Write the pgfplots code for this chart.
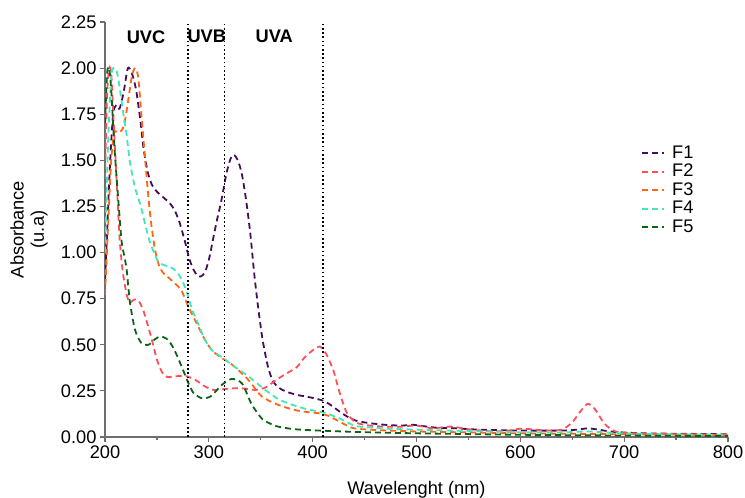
\documentclass[border=0pt]{standalone}
\usepackage{fontspec}
\setmainfont{Liberation Sans}
\usepackage{pgfplots}
\pgfplotsset{compat=1.18}
\definecolor{cF1}{RGB}{72,12,92}
\definecolor{cF2}{RGB}{255,78,88}
\definecolor{cF3}{RGB}{255,102,20}
\definecolor{cF4}{RGB}{64,232,184}
\definecolor{cF5}{RGB}{12,100,22}
\definecolor{axgray}{RGB}{110,110,110}
\newcommand{\fs}{\fontsize{18.3}{20.5}\selectfont}

\pgfplotsset{
  spec/.style={line width=1.8bp, dash pattern=on 6bp off 4bp, smooth, tension=0.45},
  region/.style={black, line width=1.6bp, dash pattern=on 1.6bp off 2.6bp, forget plot},
}

\begin{document}
\begin{tikzpicture}
\begin{axis}[
  scale only axis, width=623bp, height=415bp,
  xmin=200, xmax=800, ymin=0, ymax=2.25,
  axis lines*=left,
  axis line style={line width=1.2bp, color=axgray},
  tick style={line width=1.2bp, color=axgray},
  tick align=outside,
  major tick length=5bp, minor tick length=3bp,
  xtick={200,300,400,500,600,700,800}, minor x tick num=1,
  ytick={0,0.25,0.5,0.75,1,1.25,1.5,1.75,2,2.25},
  yticklabel style={/pgf/number format/.cd, fixed, fixed zerofill, precision=2},
  /pgf/number format/assume math mode=true,
  tick label style={font=\fs},
  xlabel={Wavelenght (nm)},
  every axis x label/.style={at={(axis description cs:0.5,0)}, anchor=base, yshift=-57bp, font=\fs},
  ylabel={Absorbance\\(u.a)},
  every axis y label/.style={at={(axis description cs:-0.122,0.5)}, rotate=90, anchor=center, align=center, font=\fs},
  legend style={at={(rel axis cs:0.855,0.711)}, anchor=north west, draw=none, fill=none,
    font=\fs, row sep=0pt, nodes={inner sep=1.5bp, text height=12.5bp, text depth=3bp}},
  legend cell align=left,
  legend image code/.code={\draw[#1] (0bp,0bp) -- (22bp,0bp); \path (28bp,0bp);},
]
\addplot[cF1, spec] coordinates {(200,0.85) (202,1.1) (204,1.38) (206,1.6) (208,1.76) (211,1.80) (214,1.78) (218,1.87) (222,2.0) (226,1.97) (230,1.88) (234,1.72) (237,1.57) (241,1.44) (245,1.37) (250,1.33) (256,1.30) (262,1.27) (267,1.23) (272,1.16) (277,1.06) (281,0.97) (285,0.91) (289,0.875) (292,0.87) (296,0.89) (300,0.96) (304,1.07) (308,1.18) (312,1.28) (317,1.43) (321,1.51) (324,1.53) (328,1.50) (332,1.42) (336,1.28) (340,1.10) (344,0.87) (348,0.68) (352,0.52) (357,0.38) (362,0.30) (368,0.265) (375,0.245) (385,0.228) (395,0.218) (405,0.205) (411,0.195) (417,0.175) (423,0.15) (432,0.115) (442,0.088) (455,0.075) (470,0.066) (485,0.062) (497,0.066) (505,0.06) (520,0.05) (535,0.048) (560,0.04) (600,0.035) (640,0.035) (655,0.04) (665,0.047) (675,0.04) (690,0.028) (720,0.02) (800,0.015)};
\addlegendentry{F1}
\addplot[cF2, spec] coordinates {(200,1.4) (202,1.85) (204,2.0) (206,1.97) (208,1.75) (210,1.52) (212,1.3) (214,1.08) (217,0.9) (221,0.77) (224,0.73) (228,0.745) (232,0.74) (236,0.70) (240,0.63) (245,0.53) (250,0.42) (255,0.35) (260,0.325) (270,0.33) (278,0.33) (287,0.31) (296,0.275) (305,0.255) (315,0.26) (330,0.265) (345,0.255) (355,0.27) (365,0.31) (375,0.345) (385,0.38) (392,0.43) (400,0.47) (407,0.49) (413,0.45) (420,0.36) (426,0.24) (433,0.13) (442,0.078) (455,0.062) (470,0.056) (485,0.056) (497,0.062) (505,0.058) (516,0.047) (528,0.055) (536,0.056) (545,0.046) (560,0.036) (575,0.03) (590,0.036) (600,0.045) (610,0.042) (625,0.035) (640,0.04) (650,0.08) (658,0.14) (665,0.18) (672,0.15) (680,0.08) (688,0.04) (700,0.022) (750,0.015) (800,0.012)};
\addlegendentry{F2}
\addplot[cF3, spec] coordinates {(200,0.77) (203,1.15) (206,1.5) (209,1.65) (213,1.65) (217,1.67) (220,1.74) (223,1.85) (226,1.96) (229,2.0) (232,1.95) (235,1.75) (238,1.55) (241,1.35) (244,1.18) (248,1.02) (252,0.93) (256,0.89) (262,0.86) (268,0.83) (274,0.79) (280,0.71) (287,0.63) (296,0.53) (303,0.47) (312,0.43) (318,0.41) (325,0.38) (338,0.31) (351,0.22) (367,0.174) (383,0.146) (395,0.135) (407,0.128) (415,0.115) (423,0.092) (432,0.065) (440,0.047) (460,0.038) (500,0.03) (550,0.025) (600,0.02) (700,0.015) (800,0.012)};
\addlegendentry{F3}
\addplot[cF4, spec] coordinates {(200,1.0) (203,1.6) (206,1.95) (208,2.0) (211,1.99) (214,1.9) (218,1.74) (221,1.63) (224,1.49) (229,1.35) (234,1.26) (238,1.17) (243,1.06) (248,0.99) (252,0.945) (258,0.93) (265,0.915) (270,0.89) (275,0.84) (279,0.78) (284,0.69) (290,0.61) (296,0.53) (303,0.47) (312,0.435) (325,0.38) (338,0.33) (351,0.27) (367,0.205) (383,0.17) (395,0.15) (407,0.137) (415,0.125) (426,0.1) (435,0.075) (443,0.058) (470,0.046) (500,0.04) (550,0.032) (600,0.026) (640,0.025) (665,0.03) (690,0.022) (720,0.016) (800,0.012)};
\addlegendentry{F4}
\addplot[cF5, spec] coordinates {(200,1.7) (202,1.97) (204,2.0) (206,1.88) (209,1.58) (213,1.27) (216,1.06) (219,0.97) (221,0.9) (224,0.73) (229,0.58) (235,0.51) (242,0.50) (248,0.53) (254,0.545) (261,0.525) (267,0.47) (274,0.38) (279,0.31) (285,0.24) (293,0.21) (298,0.212) (303,0.225) (312,0.28) (322,0.315) (332,0.29) (341,0.18) (351,0.10) (360,0.07) (367,0.056) (383,0.042) (410,0.034) (450,0.026) (500,0.02) (600,0.012) (700,0.008) (800,0.005)};
\addlegendentry{F5}
\addplot[region] coordinates {(280,0) (280,2.25)};
\addplot[region] coordinates {(315,0) (315,2.25)};
\addplot[region] coordinates {(410,0) (410,2.25)};
\node[font=\fs\bfseries] at (axis cs:239.5,2.17) {UVC};
\node[font=\fs\bfseries] at (axis cs:298,2.17) {UVB};
\node[font=\fs\bfseries] at (axis cs:363,2.17) {UVA};
\end{axis}
\pgfresetboundingbox
\path (-105bp,-61bp) rectangle (640bp,437bp);
\end{tikzpicture}
\end{document}
